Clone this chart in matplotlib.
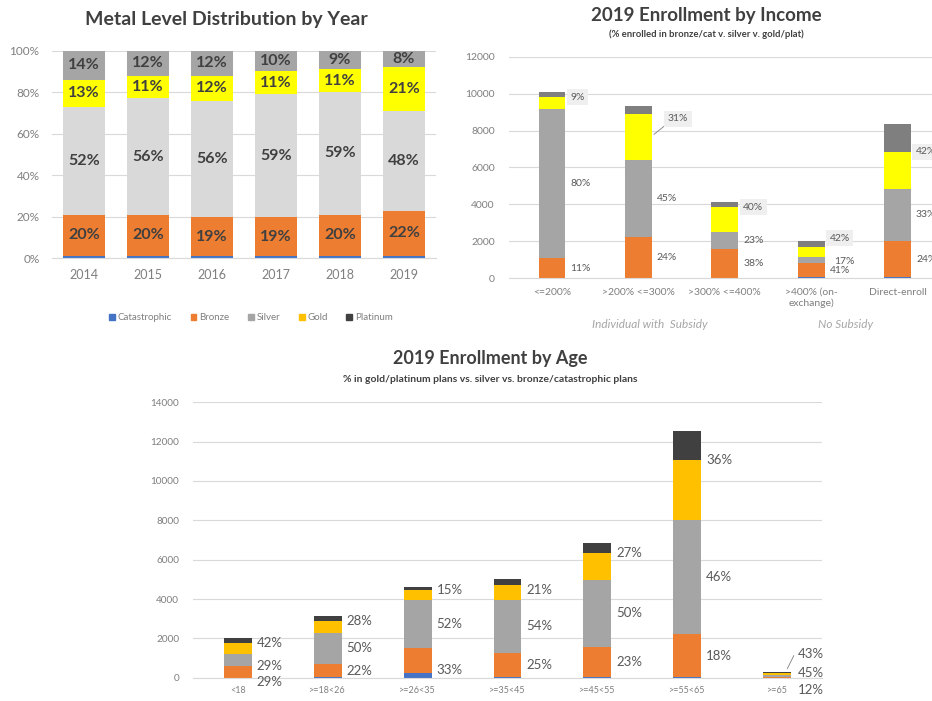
import numpy as np
import matplotlib
matplotlib.use("Agg")
from matplotlib import pyplot as plt
from matplotlib.patches import Patch

plt.rcParams['font.family'] = ['Lato', 'DejaVu Sans']

# --- Metal level distribution by year (percent of enrollment) ---
years = ['2014', '2015', '2016', '2017', '2018', '2019']
yr_cat = [1, 1, 1, 1, 1, 1]
yr_bronze = [20, 20, 19, 19, 20, 22]
yr_silver = [52, 56, 56, 59, 59, 48]
yr_gold = [13, 11, 12, 11, 11, 21]
yr_plat = [14, 12, 12, 10, 9, 8]

# --- 2019 enrollment by income ---
inc_groups = ['<=200%', '>200% <=300%', '>300% <=400%', '>400% (on-\nexchange)', 'Direct-enroll']
inc_cat = [30, 30, 20, 50, 90]
inc_bronze = [1050, 2200, 1540, 780, 1950]
inc_silver = [8100, 4200, 945, 340, 2795]
inc_gold = [620, 2470, 1340, 520, 2020]
inc_plat = [300, 450, 305, 330, 1510]

# --- 2019 enrollment by age ---
ages = ['<18', '>=18<26', '>=26<35', '>=35<45', '>=45<55', '>=55<65', '>=65']
age_cat = [10, 30, 220, 20, 20, 20, 2]
age_bronze = [580, 670, 1310, 1240, 1560, 2220, 32]
age_silver = [590, 1570, 2400, 2700, 3400, 5800, 126]
age_gold = [580, 590, 540, 760, 1370, 3050, 90]
age_plat = [270, 290, 160, 300, 510, 1430, 30]

W, H = 932, 701
fig = plt.figure(figsize=(W / 100, H / 100), dpi=100)

def px_axes(left, top, right, bottom):
    return fig.add_axes([left / W, 1 - bottom / H, (right - left) / W, (bottom - top) / H])

def ftext(x, y, s, **kw):
    fig.text(x / W, 1 - y / H, s, ha='center', va='center', **kw)

def style(ax, tick_col='#7F7F7F', size=7, pad=7):
    for s in ['top', 'right', 'left']:
        ax.spines[s].set_visible(False)
    ax.spines['bottom'].set_color('#D9D9D9')
    ax.yaxis.grid(True, color='#D9D9D9', lw=0.8)
    ax.set_axisbelow(True)
    ax.tick_params(length=0, colors=tick_col, labelsize=size)
    ax.tick_params(axis='y', pad=pad)

def stack(ax, x, series, colors, width):
    bottom = np.zeros(len(x))
    for vals, c in zip(series, colors):
        ax.bar(x, vals, width, bottom=bottom, color=c, zorder=2)
        bottom = bottom + np.array(vals, dtype=float)

# ---------------- chart 1 ----------------
ax1 = px_axes(52, 50.7, 436, 258.3)
x1 = np.arange(len(years))
c1 = ['#4472C4', '#ED7D31', '#D9D9D9', '#FFFF00', '#A5A5A5']
stack(ax1, x1, [yr_cat, yr_bronze, yr_silver, yr_gold, yr_plat], c1, 0.66)
style(ax1, size=8.5, pad=9)
ax1.set_xlim(-0.5, len(years) - 0.5)
ax1.set_ylim(0, 100)
ax1.set_yticks(range(0, 101, 20))
ax1.set_yticklabels([f'{v}%' for v in range(0, 101, 20)])
ax1.set_xticks(x1)
ax1.set_xticklabels(years, fontsize=9, color='#7F7F7F')
ax1.tick_params(axis='x', pad=8)
base = np.array(yr_cat, dtype=float)
for vals in [yr_bronze, yr_silver, yr_gold, yr_plat]:
    for i, v in enumerate(vals):
        ax1.text(i, base[i] + v / 2, f'{v}%', ha='center', va='center',
                 fontsize=11.5, fontweight='bold', color='#404040', zorder=3)
    base = base + np.array(vals)
ftext(226, 19, 'Metal Level Distribution by Year', fontsize=14, fontweight='bold', color='#404040')
leg_handles = [Patch(color=c) for c in ['#4472C4', '#ED7D31', '#A5A5A5', '#FFC000', '#404040']]
fig.legend(leg_handles, ['Catastrophic', 'Bronze', 'Silver', 'Gold', 'Platinum'],
           loc='center', bbox_to_anchor=(251 / W, 1 - 318 / H), ncol=5, frameon=False,
           fontsize=7, labelcolor='#7F7F7F', handlelength=0.6, handleheight=0.6,
           handletextpad=0.3, columnspacing=1.9)

def pct_labels(ax, x, cat, bronze, silver, gold, plat, size, half_w, nudges, boxed):
    for i in range(len(x)):
        tot = cat[i] + bronze[i] + silver[i] + gold[i] + plat[i]
        bc = cat[i] + bronze[i]
        gp = gold[i] + plat[i]
        ys = [bc + silver[i] + gold[i], bc + silver[i] / 2, bc / 2]
        txt = [gp, silver[i], bc]
        for k in range(3):
            dx, dy = nudges.get((i, k), (0, 0))
            kw = {}
            if boxed and k == 0:
                kw['bbox'] = dict(boxstyle='square,pad=0.35', fc='#EFEFEF', ec='none')
            ax.annotate(f'{100 * txt[k] / tot:.0f}%', (x[i] + half_w, ys[k]),
                        xytext=(5 + dx, -dy), textcoords='offset pixels',
                        ha='left', va='center', fontsize=size, color='#595959',
                        zorder=4, annotation_clip=False, **kw)

# ---------------- chart 2 ----------------
ax2 = px_axes(508.8, 56.7, 940.8, 278.3)
x2 = np.arange(len(inc_groups))
c2 = ['#4472C4', '#ED7D31', '#A5A5A5', '#FFFF00', '#7F7F7F']
stack(ax2, x2, [inc_cat, inc_bronze, inc_silver, inc_gold, inc_plat], c2, 0.31)
style(ax2, size=7.5, pad=10)
ax2.set_xlim(-0.5, len(inc_groups) - 0.5)
ax2.set_ylim(0, 12000)
ax2.set_yticks(range(0, 12001, 2000))
ax2.set_xticks(x2)
ax2.set_xticklabels(inc_groups, fontsize=7.5, color='#7F7F7F', linespacing=1.2)
ax2.tick_params(axis='x', pad=7)
pct_labels(ax2, x2, inc_cat, inc_bronze, inc_silver, inc_gold, inc_plat, 7.5, 0.155,
           {(1, 0): (11, 5), (3, 0): (0, -9), (3, 1): (5, 2)}, True)
# leader line for the 31% label
ax2.annotate('', xy=(1 + 0.155, 7700), xytext=(1 + 0.155 + 0.2, 8450),
             arrowprops=dict(arrowstyle='-', color='#7F7F7F', lw=0.6))
ftext(706, 15, '2019 Enrollment by Income', fontsize=13.5, fontweight='bold', color='#404040')
ftext(706, 34, '(% enrolled in bronze/cat v. silver v. gold/plat)', fontsize=6.8,
      fontweight='bold', color='#404040')
ftext(650, 325, 'Individual with  Subsidy', fontsize=8.5, style='italic', color='#A6A6A6')
ftext(846, 325, 'No Subsidy', fontsize=8.5, style='italic', color='#A6A6A6')

# ---------------- chart 3 ----------------
ax3 = px_axes(193, 402.3, 822, 677.7)
x3 = np.arange(len(ages))
c3 = ['#4472C4', '#ED7D31', '#A5A5A5', '#FFC000', '#404040']
stack(ax3, x3, [age_cat, age_bronze, age_silver, age_gold, age_plat], c3, 0.31)
style(ax3, size=7.2, pad=10)
ax3.set_xlim(-0.5, len(ages) - 0.5)
ax3.set_ylim(0, 14000)
ax3.set_yticks(range(0, 14001, 2000))
ax3.set_xticks(x3)
ax3.set_xticklabels(ages, fontsize=6.5, color='#7F7F7F')
ax3.tick_params(axis='x', pad=6)
pct_labels(ax3, x3, age_cat, age_bronze, age_silver, age_gold, age_plat, 9.5, 0.155,
           {(0, 1): (0, 6), (0, 2): (0, 10), (2, 2): (0, 7), (3, 0): (0, 5),
            (6, 0): (2, -19), (6, 1): (2, -3), (6, 2): (2, 13)}, False)
ax3.annotate('', xy=(6 + 0.1, 330), xytext=(6 + 0.2, 1250),
             arrowprops=dict(arrowstyle='-', color='#7F7F7F', lw=0.6))
ftext(490, 358, '2019 Enrollment by Age', fontsize=13, fontweight='bold', color='#404040')
ftext(490, 379, '% in gold/platinum plans vs. silver vs. bronze/catastrophic plans',
      fontsize=7.5, fontweight='bold', color='#404040')

fig.savefig('out.png', dpi=100)
